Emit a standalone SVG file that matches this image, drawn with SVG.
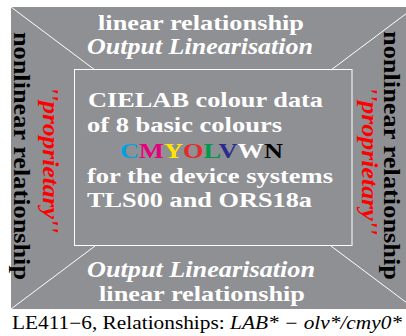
<svg xmlns="http://www.w3.org/2000/svg" width="406" height="336" viewBox="0 0 406 336">
<style>
.bg{fill:#8f9094}
.ln{stroke:#ffffff;stroke-width:1;fill:none}
.b{font-family:"Liberation Serif","Times New Roman",serif;font-weight:bold}
.bi{font-family:"Liberation Serif","Times New Roman",serif;font-style:italic;font-weight:bold}
.r{font-family:"Liberation Serif","Times New Roman",serif}
.w{fill:#ffffff}
.k{fill:#000000}
.red{fill:#ff0000}
</style>
<rect width="406" height="336" fill="#ffffff"/>
<g id="frame">
<rect class="bg" x="11" y="7" width="395" height="302"/>
</g>
<g id="connectors">
<line class="ln" x1="11" y1="7" x2="95" y2="70"/>
<line class="ln" x1="331" y1="70" x2="406" y2="13.75"/>
<line class="ln" x1="11" y1="309" x2="95" y2="246"/>
<line class="ln" x1="331" y1="246" x2="406" y2="302.25"/>
</g>
<g id="top">
<text class="b w" x="98" y="29.5" font-size="22" textLength="206" lengthAdjust="spacingAndGlyphs">linear relationship</text>
<text class="bi w" x="87" y="54" font-size="23" textLength="226" lengthAdjust="spacingAndGlyphs">Output Linearisation</text>
</g>
<g id="bottom">
<text class="bi w" x="87" y="277" font-size="23" textLength="228" lengthAdjust="spacingAndGlyphs">Output Linearisation</text>
<text class="b w" x="99" y="301" font-size="22" textLength="206" lengthAdjust="spacingAndGlyphs">linear relationship</text>
</g>
<g id="center">
<rect x="74.5" y="69.5" width="277.5" height="176" fill="none" stroke="#ffffff" stroke-width="1"/>
<text class="b w" x="88" y="107" font-size="22" textLength="235" lengthAdjust="spacingAndGlyphs">CIELAB colour data</text>
<text class="b w" x="87" y="132" font-size="22" textLength="195" lengthAdjust="spacingAndGlyphs">of 8 basic colours</text>
<text class="b" x="120" y="158" font-size="22" textLength="163" lengthAdjust="spacingAndGlyphs"><tspan fill="#00a0e3">C</tspan><tspan fill="#e5007e">M</tspan><tspan fill="#ffe600">Y</tspan><tspan fill="#e52a2a">O</tspan><tspan fill="#00994a">L</tspan><tspan fill="#2a2a8f">V</tspan><tspan fill="#ffffff">W</tspan><tspan fill="#000000">N</tspan></text>
<text class="b w" x="87" y="183" font-size="22" textLength="246" lengthAdjust="spacingAndGlyphs">for the device systems</text>
<text class="b w" x="87" y="207" font-size="22" textLength="225" lengthAdjust="spacingAndGlyphs">TLS00 and ORS18a</text>
</g>
<g id="left">
<text class="b k" transform="translate(13.5,32) rotate(90)" font-size="23" textLength="248" lengthAdjust="spacingAndGlyphs">nonlinear relationship</text>
<text class="bi red" transform="translate(42.5,87) rotate(90)" font-size="23" textLength="146" lengthAdjust="spacingAndGlyphs">''proprietary''</text>
</g>
<g id="right">
<text class="b k" transform="translate(384,31) rotate(90)" font-size="23" textLength="249" lengthAdjust="spacingAndGlyphs">nonlinear relationship</text>
<text class="bi red" transform="translate(362,87) rotate(90)" font-size="23" textLength="148" lengthAdjust="spacingAndGlyphs">''proprietary''</text>
</g>
<g id="caption">
<text class="r k" x="12" y="329" font-size="18" textLength="390" lengthAdjust="spacingAndGlyphs">LE411−6, Relationships: <tspan font-style="italic">LAB* − olv*/cmy0*</tspan></text>
</g>
</svg>
